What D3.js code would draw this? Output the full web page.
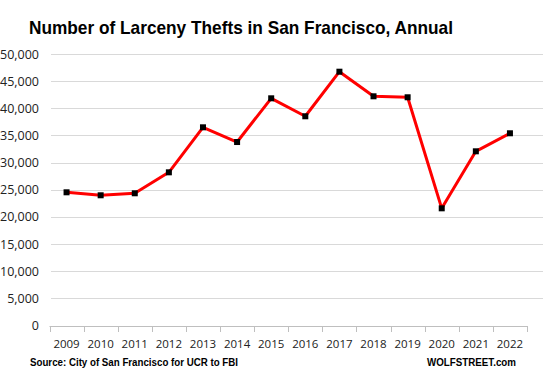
<!DOCTYPE html>
<html><head><meta charset="utf-8">
<script src="https://cdn.jsdelivr.net/npm/d3@7"></script>
<style>body{margin:0;background:#fff;}svg{display:block;}</style>
</head><body><svg id="c" width="543" height="374"></svg>
<script>
const years = ["2009","2010","2011","2012","2013","2014","2015","2016","2017","2018","2019","2020","2021","2022"];
const thefts = [24530,23980,24350,28210,36500,33790,41840,38530,46740,42210,42030,21580,32080,35400];
const yTicks = [0,5000,10000,15000,20000,25000,30000,35000,40000,45000,50000];

const svg = d3.select("#c");
const font = "Open Sans, Liberation Sans, sans-serif";
const x = d3.scaleBand().domain(years).range([49.5, 527]);
const y = d3.scaleLinear().domain([0,50000]).range([325.5, 54]);

svg.append("text").attr("x",29).attr("y",33.5).attr("font-family","Liberation Sans, Arial, sans-serif")
  .attr("font-weight","bold").attr("font-size",18.5).attr("fill","#000")
  .attr("textLength",424).attr("lengthAdjust","spacingAndGlyphs")
  .text("Number of Larceny Thefts in San Francisco, Annual");

// gridlines
svg.append("g").selectAll("line").data(yTicks.filter(d=>d>0)).join("line")
  .attr("x1",51).attr("x2",543).attr("y1",d=>Math.round(y(d))+0.5).attr("y2",d=>Math.round(y(d))+0.5)
  .attr("stroke","#d9d9d9").attr("stroke-width",1);

// y axis labels
const ya = svg.append("g").attr("transform","translate(39,0)")
  .call(d3.axisLeft(y).tickValues(yTicks).tickFormat(d3.format(",")).tickSize(0).tickPadding(0));
ya.select(".domain").remove();
ya.selectAll("text").attr("font-family",font).attr("font-size",12.5).attr("fill","#222");

// x axis
const xa = svg.append("g").attr("transform",`translate(0,${Math.round(y(0))+0.5})`)
  .call(d3.axisBottom(x).tickSize(0).tickPadding(13));
xa.select(".domain").attr("stroke","#bfbfbf").attr("d",`M${x.range()[0]},0H${x.range()[1]}`);
xa.selectAll("text").attr("font-family",font).attr("font-size",11.5).attr("fill","#222");
svg.append("g").selectAll("line").data(years.concat(["end"])).join("line")
  .attr("x1",(d,i)=>Math.round(x.range()[0]+i*x.step())+0.5)
  .attr("x2",(d,i)=>Math.round(x.range()[0]+i*x.step())+0.5)
  .attr("y1",Math.round(y(0))).attr("y2",Math.round(y(0))+6)
  .attr("stroke","#bfbfbf");

// line
const line = d3.line().x((d,i)=>x(years[i])+x.bandwidth()/2).y(d=>y(d));
svg.append("path").datum(thefts).attr("d",line).attr("fill","none")
  .attr("stroke","#ff0000").attr("stroke-width",3).attr("stroke-linejoin","round");
svg.append("g").selectAll("rect").data(thefts).join("rect")
  .attr("x",(d,i)=>x(years[i])+x.bandwidth()/2-3).attr("y",d=>y(d)-3)
  .attr("width",6).attr("height",6).attr("fill","#000");

svg.append("text").attr("x",30).attr("y",366).attr("font-family","Liberation Sans, Arial, sans-serif")
  .attr("font-weight","bold").attr("font-size",10).attr("fill","#000")
  .attr("textLength",208).attr("lengthAdjust","spacingAndGlyphs")
  .text("Source: City of San Francisco for UCR  to FBI");
svg.append("text").attr("x",516).attr("y",366).attr("text-anchor","end").attr("font-family","Liberation Sans, Arial, sans-serif")
  .attr("font-weight","bold").attr("font-size",10).attr("fill","#000")
  .attr("textLength",89).attr("lengthAdjust","spacingAndGlyphs")
  .text("WOLFSTREET.com");
</script></body></html>
